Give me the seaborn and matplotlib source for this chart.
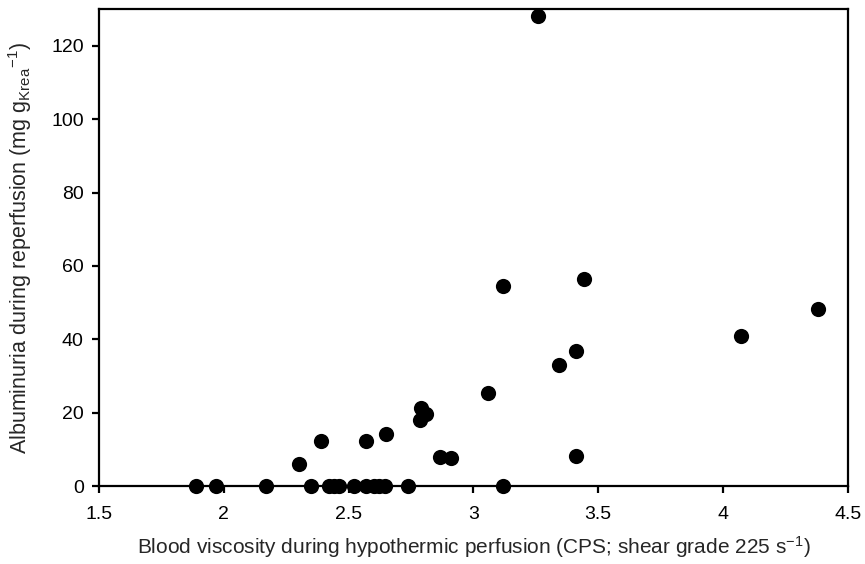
import matplotlib
matplotlib.use('Agg')
import matplotlib.pyplot as plt
import numpy as np
import pandas as pd
import seaborn as sns

# Data (viscosity in CPS, albuminuria in mg/g Krea)
viscosity = [1.89, 1.97, 2.17, 2.35, 2.42, 2.44, 2.46, 2.52, 2.57, 2.60, 2.62, 2.645,
             2.74, 3.12,
             2.30, 2.39, 2.57, 2.65, 2.79, 2.81, 2.785, 2.865, 2.91, 3.06, 3.41,
             3.12, 3.258, 3.342, 3.41, 3.442, 4.074, 4.381]
albuminuria = [0, 0, 0, 0, 0, 0, 0, 0, 0, 0, 0, 0,
               0, 0,
               6.0, 12.3, 12.3, 14.2, 21.3, 19.7, 17.9, 8.0, 7.6, 25.3, 8.3,
               54.5, 128, 32.9, 36.7, 56.5, 41.0, 48.3]

df = pd.DataFrame({'visc': viscosity, 'alb': albuminuria})

sns.set_style('ticks')
plt.rcParams['font.family'] = ['Liberation Sans', 'DejaVu Sans']
plt.rcParams['mathtext.fontset'] = 'custom'
plt.rcParams['mathtext.rm'] = 'Liberation Sans'
plt.rcParams['mathtext.it'] = 'Liberation Sans'

fig = plt.figure(figsize=(8.65, 5.64), dpi=100)
ax = fig.add_axes([0.1145, 0.138, 0.8655, 0.846])

sns.scatterplot(data=df, x='visc', y='alb', ax=ax, color='black', s=120,
                edgecolor='black', linewidth=0, clip_on=False, zorder=3)

ax.set_xlim(1.5, 4.5)
ax.set_ylim(0, 130)
ax.set_xticks([1.5, 2, 2.5, 3, 3.5, 4, 4.5])
ax.set_xticklabels(['1.5', '2', '2.5', '3', '3.5', '4', '4.5'])
ax.set_yticks([0, 20, 40, 60, 80, 100, 120])

ax.set_xlabel('Blood viscosity during hypothermic perfusion (CPS; shear grade 225 s$^{\\mathregular{-1}}$)',
              fontsize=15)
ax.set_ylabel('Albuminuria during reperfusion (mg g$_{\\mathregular{Krea}}$$^{\\mathregular{-1}}$)',
              fontsize=15.5, va='center')
ax.xaxis.set_label_coords(0.5, -0.1)
ax.yaxis.set_label_coords(-0.106, 0.5)

for sp in ax.spines.values():
    sp.set_linewidth(1.6)
    sp.set_color('black')
ax.tick_params(axis='both', direction='out', length=5, width=1.6, labelsize=14,
               colors='black')
ax.tick_params(axis='x', pad=9)
ax.tick_params(axis='y', pad=6)

fig.savefig('out.png', dpi=100)
